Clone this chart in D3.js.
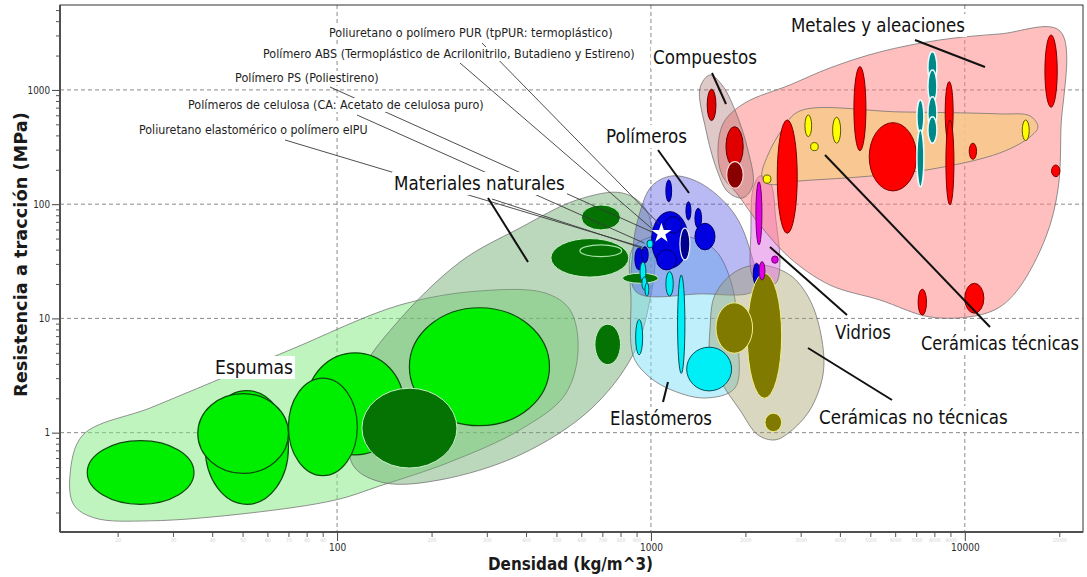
<!DOCTYPE html>
<html>
<head>
<meta charset="utf-8">
<script src="https://cdn.jsdelivr.net/npm/d3@7"></script>
<style>
  body { margin: 0; background: #fff; }
  svg { display: block; }
  text { font-family: "DejaVu Sans", Verdana, sans-serif; }
</style>
</head>
<body>
<svg id="chart" width="1087" height="577"></svg>
<script>
// ---- axis ticks -------------------------------------------------------
const densityTicks = [100, 1000, 10000];
const strengthTicks = [1, 10, 100, 1000];

// ---- material bubbles: [density min, density max, strength min, strength max]
const foamBubbles = [
  [16, 35, 0.236, 0.85],
  [38, 70, 0.236, 2.33],
  [36, 70, 0.44, 2.2],
  [80, 163, 0.64, 5.0],
  [70, 116, 0.42, 3.0],
  [170, 475, 1.15, 12.4]
];
const naturalBubbles = [
  [600, 800, 59.5, 98.5],
  [480, 850, 23, 50],
  [812, 1055, 20.3, 24.9],
  [663, 800, 3.94, 8.9],
  [120, 241, 0.49, 2.45]
];
const naturalRing = [[594, 807, 34.7, 44]];
const polymerBubbles = [
  [1005, 1315, 27.5, 86],
  [1108, 1252, 55.7, 77.8],
  [1043, 1207, 26.6, 39.8],
  [1116, 1164, 105, 163],
  [1293, 1341, 72.8, 105],
  [1381, 1450, 61.6, 92],
  [1381, 1600, 39.8, 68],
  [889, 945, 26.6, 41.4],
  [934, 980, 30.6, 42.5],
  [2118, 2224, 19.6, 30.4]
];
const polymerDark = [[1237, 1331, 32.5, 61.6]];
const elastomerBubbles = [
  [894, 941, 4.8, 9.8],
  [1216, 1283, 3.3, 24],
  [1300, 1807, 2.32, 5.6],
  [1116, 1178, 15.7, 25.7],
  [923, 964, 20.9, 31.2],
  [936, 971, 17.8, 23.1],
  [957, 985, 15.7, 20.4],
  [971, 1015, 41.4, 48.6]
];
const ceramicBubbles = [
  [2027, 2609, 2.0, 24.9],
  [1611, 2108, 4.96, 13.7],
  [2308, 2609, 1.02, 1.48]
];
const glassBubbles = [
  [2160, 2257, 44, 157],
  [2213, 2308, 21.7, 31.4],
  [2424, 2544, 30.4, 35.2]
];
const metalBubbles = [
  [2526, 2925, 55.7, 546],
  [4433, 4842, 294, 1600],
  [4960, 7020, 130.6, 517],
  [8660, 9180, 344, 1182],
  [8706, 9233, 98.5, 546],
  [10330, 10900, 247, 342],
  [18000, 19700, 706, 3030],
  [18900, 20090, 174, 220],
  [7100, 7550, 10.7, 18],
  [10000, 11500, 11.1, 20.3]
];
const techTealBubbles = [
  [7036, 7408, 417.8, 817.5],
  [7036, 7408, 142.4, 446.5],
  [7628, 8150, 1144, 2164],
  [7628, 8150, 769.6, 1496],
  [7628, 8150, 446.5, 873.7],
  [7628, 8150, 341.6, 583.8]
];
const techYellowBubbles = [
  [3095, 3251, 390, 604],
  [3792, 4022, 342, 577],
  [3227, 3412, 294, 346],
  [2279, 2412, 152.5, 180],
  [15240, 16040, 360, 546]
];
const compositeBubbles = [
  [1511, 1611, 539, 1014],
  [1734, 1968, 213, 477]
];
const compositeDark = [[1743, 1968, 138, 236]];

// selected material (density, strength)
const selectedMaterial = [1080, 55.7];

// ---- family envelopes: [density, strength] outline points
const foamEnvelope = [[14.1,0.427],[15.5,0.955],[25.4,1.646],[40.2,2.78],[70.8,5.30],[158.6,13.1],[285,17.4],[460,16.7],[552,11.9],[586,5.30],[532,2.14],[382,1.056],[229,0.554],[137,0.342],[99.2,0.258],[52.8,0.198],[25.4,0.169],[16.9,0.179],[14.5,0.233]];
const naturalEnvelope = [[108.3,0.864],[118.3,3.20],[152.9,8.77],[246.4,31.2],[382.5,61.9],[581,108.9],[808,125.5],[957,92.7],[1030,39.8],[993,14.5],[876,4.79],[639,1.58],[382.5,0.638],[212.7,0.386],[142.1,0.363],[114,0.491]];
const elastomerEnvelope = [[870,39.8],[978,50.6],[1283,52.7],[1599,39.8],[1811,19.6],[1894,6.48],[1852,2.46],[1486,2.01],[1125,2.46],[957,3.33],[876,4.79],[864,14.5]];
const polymerEnvelope = [[896,17.1],[876,39.8],[923,85.5],[1007,144.4],[1166,176.7],[1433,153.4],[1825,85.5],[2067,39.8],[2145,17.8],[1433,16.4]];
const ceramicEnvelope = [[1542,7.93],[1599,16.05],[1852,25.5],[2224,29.4],[2772,24.0],[3210,14.5],[3506,6.48],[3532,3.20],[3210,1.58],[2772,1.015],[2483,0.864],[2192,0.955],[1920,1.58],[1659,2.89],[1542,4.79]];
const glassEnvelope = [[2113,133.3],[2224,176.7],[2394,156.6],[2501,72.8],[2576,29.4],[2501,20.4],[2257,18.5],[2098,24.0],[2083,59.5]];
const metalEnvelope = [[1635,298.4],[1709,524.8],[1993,769.6],[2772,1106],[3717,1558],[5363,2151],[8331,2740],[12935,3092],[20090,3285],[20236,446.5],[19800,133.3],[18130,51.7],[14980,18.9],[12935,12.6],[10770,10.5],[7743,10.3],[5363,14.5],[3717,19.6],[2772,33.8],[2224,65.8],[1894,120.5],[1684,180.3]];
const compositeEnvelope = [[1433,1041],[1542,1353],[1684,1106],[1852,668],[2037,298.4],[2113,147.4],[1964,113.4],[1759,128],[1623,199.4],[1497,446.5]];
const techEnvelope = [[2257,176.7],[2359,269.8],[2615,446.5],[2983,655],[6213,642],[12935,616.5],[16126,592],[17100,474.4],[16126,387.8],[12935,280.8],[7574,199.4],[4632,173.2],[2983,159.7],[2359,150.4]];

// ---- text ---------------------------------------------------------------
const familyNames = ["Materiales naturales", "Polímeros", "Compuestos", "Metales y aleaciones",
  "Cerámicas técnicas", "Vidrios", "Cerámicas no técnicas", "Elastómeros", "Espumas"];
const materialNotes = [
  "Poliuretano o polímero PUR (tpPUR: termoplástico)",
  "Polímero ABS (Termoplástico de Acrilonitrilo, Butadieno y Estireno)",
  "Polímero PS (Poliestireno)",
  "Polímeros de celulosa (CA: Acetato de celulosa puro)",
  "Poliuretano elastomérico o polímero eIPU"
];

// ---- layout -------------------------------------------------------------
const W = 1087, H = 577;
const plot = { left: 60, right: 1083, top: 5, bottom: 532 };

const svg = d3.select("#chart");
const x = d3.scaleLog().domain([13.1, 23800]).range([plot.left, plot.right]);
const y = d3.scaleLog().domain([0.135, 5540]).range([plot.bottom, plot.top]);

svg.append("rect").attr("width", W).attr("height", H).attr("fill", "#fff");
svg.append("defs").append("clipPath").attr("id", "plotArea")
  .append("rect").attr("x", plot.left).attr("y", plot.top)
  .attr("width", plot.right - plot.left).attr("height", plot.bottom - plot.top);

const inner = svg.append("g").attr("clip-path", "url(#plotArea)");

// dashed decade grid
const grid = inner.append("g").attr("stroke", "#8a8a8a").attr("stroke-width", 1).attr("stroke-dasharray", "4,3");
grid.selectAll(".gx").data(densityTicks).join("line")
  .attr("x1", d => x(d)).attr("x2", d => x(d)).attr("y1", plot.top).attr("y2", plot.bottom);
grid.selectAll(".gy").data(strengthTicks).join("line")
  .attr("y1", d => y(d)).attr("y2", d => y(d)).attr("x1", plot.left).attr("x2", plot.right);

// envelopes
const hull = d3.line().x(d => x(d[0])).y(d => y(d[1])).curve(d3.curveCatmullRomClosed.alpha(0.5));
const envelopes = [
  { pts: foamEnvelope, fill: "#80ea80", op: 0.5 },
  { pts: naturalEnvelope, fill: "#6aa86a", op: 0.45 },
  { pts: elastomerEnvelope, fill: "#7ee0f5", op: 0.5 },
  { pts: polymerEnvelope, fill: "#5050e0", op: 0.4 },
  { pts: ceramicEnvelope, fill: "#a09a60", op: 0.4 },
  { pts: glassEnvelope, fill: "#e070e0", op: 0.5 },
  { pts: metalEnvelope, fill: "#ff8080", op: 0.5 },
  { pts: compositeEnvelope, fill: "#a06060", op: 0.35 },
  { pts: techEnvelope, fill: "#f8c888", op: 0.85 }
];
inner.append("g").selectAll("path").data(envelopes).join("path")
  .attr("d", d => hull(d.pts))
  .attr("fill", d => d.fill).attr("fill-opacity", d => d.op)
  .attr("stroke", "#6f6f6f").attr("stroke-opacity", 0.75).attr("stroke-width", 1);

// bubbles
function bubbles(data, fill, stroke, sw) {
  inner.append("g").selectAll("ellipse").data(data).join("ellipse")
    .attr("cx", d => (x(d[0]) + x(d[1])) / 2)
    .attr("cy", d => (y(d[2]) + y(d[3])) / 2)
    .attr("rx", d => (x(d[1]) - x(d[0])) / 2)
    .attr("ry", d => (y(d[2]) - y(d[3])) / 2)
    .attr("fill", fill).attr("stroke", stroke).attr("stroke-width", sw);
}
bubbles(foamBubbles, "#00ee00", "#0c4a0c", 1.2);
bubbles(naturalBubbles, "#047304", "#c6efc6", 1);
bubbles(naturalRing, "none", "#a8e0a8", 1.2);
bubbles(polymerBubbles, "#0000e0", "#00006a", 1);
bubbles(polymerDark, "#00008a", "#e8f0ff", 1.2);
bubbles(elastomerBubbles, "#00eef6", "#00505a", 1);
bubbles(ceramicBubbles, "#807a00", "#f2f08a", 1);
bubbles(glassBubbles, "#e400e4", "#6a006a", 1);
bubbles(metalBubbles, "#ff0000", "#7a0000", 1);
bubbles(techTealBubbles, "#008888", "#e8ffff", 1.5);
bubbles(techYellowBubbles, "#ffff00", "#5a5a00", 1);
bubbles(compositeBubbles, "#e00000", "#600000", 1);
bubbles(compositeDark, "#880000", "#ffd8d8", 1.2);

// ---- axes ---------------------------------------------------------------
const minorDensity = [];
[10, 100, 1000, 10000].forEach(m => { for (let k = 2; k <= 9; k++) { const v = k * m; if (v > 13.1 && v < 23800) minorDensity.push(v); } });
const minorStrength = [];
[0.1, 1, 10, 100, 1000].forEach(m => { for (let k = 2; k <= 9; k++) { const v = +(k * m).toPrecision(3); if (v > 0.135 && v < 5540) minorStrength.push(v); } });

const gxMinor = svg.append("g").attr("transform", `translate(0,${plot.bottom})`)
  .call(d3.axisBottom(x).tickValues(minorDensity).tickSize(5).tickPadding(1).tickFormat(d3.format("d")));
gxMinor.attr("font-family", "DejaVu Sans").attr("font-size", 5);
gxMinor.selectAll("text").attr("fill", "#d2d2d2");
gxMinor.selectAll("line").attr("stroke", "#555");
gxMinor.select(".domain").remove();

const gx = svg.append("g").attr("transform", `translate(0,${plot.bottom})`)
  .call(d3.axisBottom(x).tickValues(densityTicks).tickSize(9).tickPadding(3).tickFormat(d3.format("d")));
gx.attr("font-family", "DejaVu Sans").attr("font-size", 10);
gx.selectAll("text").attr("fill", "#2a2a2a");
gx.selectAll("line").attr("stroke", "#444");
gx.select(".domain").remove();

const gyMinor = svg.append("g").attr("transform", `translate(${plot.left},0)`)
  .call(d3.axisLeft(y).tickValues(minorStrength).tickSize(4).tickFormat(""));
gyMinor.selectAll("line").attr("stroke", "#555");
gyMinor.select(".domain").remove();

const gy = svg.append("g").attr("transform", `translate(${plot.left},0)`)
  .call(d3.axisLeft(y).tickValues(strengthTicks).tickSize(8).tickPadding(2).tickFormat(d3.format("d")));
gy.attr("font-family", "DejaVu Sans").attr("font-size", 10);
gy.selectAll("text").attr("fill", "#2a2a2a");
gy.selectAll("line").attr("stroke", "#444");
gy.select(".domain").remove();

function squeeze(sel, f) {
  sel.each(function () {
    const L = this.getComputedTextLength();
    d3.select(this).attr("textLength", L * f).attr("lengthAdjust", "spacingAndGlyphs");
  });
}
squeeze(gx.selectAll("text"), 0.9);
squeeze(gy.selectAll("text"), 0.88);
squeeze(gxMinor.selectAll("text"), 0.9);

// frame
svg.append("rect").attr("x", plot.left).attr("y", plot.top)
  .attr("width", plot.right - plot.left).attr("height", plot.bottom - plot.top)
  .attr("fill", "none").attr("stroke", "#333").attr("stroke-width", 1);
svg.append("line").attr("x1", plot.left).attr("x2", plot.right).attr("y1", plot.bottom).attr("y2", plot.bottom)
  .attr("stroke", "#505050").attr("stroke-width", 2);
svg.append("line").attr("x1", plot.left).attr("x2", plot.left).attr("y1", plot.top).attr("y2", plot.bottom)
  .attr("stroke", "#505050").attr("stroke-width", 2);

// narrow a text to a given width with a horizontal scale about its left edge
function fitText(sel, left, base, width) {
  const L = sel.node().getComputedTextLength();
  sel.attr("x", 0).attr("y", 0)
    .attr("transform", `translate(${left},${base}) scale(${width / L},1)`);
}

// axis titles
const xTitle = svg.append("text").text("Densidad (kg/m^3)")
  .attr("font-size", 18).attr("font-weight", "bold").attr("fill", "#1a1a1a");
fitText(xTitle, 488, 570, 165);
const yTitle = svg.append("text").text("Resistencia a tracción (MPa)")
  .attr("font-size", 18).attr("font-weight", "bold").attr("fill", "#1a1a1a");
{
  const L = yTitle.node().getComputedTextLength();
  yTitle.attr("transform", `translate(26.5,397) rotate(-90) scale(${285 / L},1)`);
}

// ---- annotations -------------------------------------------------------
const sx = x(selectedMaterial[0]), sy = y(selectedMaterial[1]);

// material notes: left edge, vertical centre, width, leader start
const noteLayout = [
  { x: 329, cy: 33, w: 284, from: [482, 43], to: [sx - 2, sy - 9] },
  { x: 263, cy: 54, w: 372, from: [460, 63], to: [sx - 10, sy - 5] },
  { x: 235, cy: 78, w: 144, from: [330, 87], to: [sx - 9, sy - 1] },
  { x: 188, cy: 105, w: 296, from: [357, 115], to: [sx - 17, sy + 10] },
  { x: 139, cy: 130, w: 229, from: [285, 140], to: [sx - 19, sy + 14] }
];
// family labels: left edge, vertical centre, width, leader
const familyLayout = [
  { x: 394, cy: 183, w: 171, lead: [488, 198, 528, 262] },
  { x: 606, cy: 136, w: 81, lead: [658, 150, 689, 193] },
  { x: 653, cy: 57, w: 104, lead: [712, 73, 726, 104] },
  { x: 791, cy: 25, w: 174, lead: [915, 40, 985, 67] },
  { x: 921, cy: 343, w: 158, lead: [825, 155, 990, 327] },
  { x: 835, cy: 332, w: 56, lead: [770, 247, 847, 315] },
  { x: 819, cy: 417, w: 189, lead: [808, 348, 892, 400] },
  { x: 610, cy: 418, w: 102, lead: [668, 382, 663, 402] },
  { x: 215, cy: 367, w: 78, lead: null }
];

// thin leaders from the material notes
const notes = svg.append("g");
notes.selectAll("line").data(noteLayout).join("line")
  .attr("x1", d => d.from[0]).attr("y1", d => d.from[1])
  .attr("x2", d => d.to[0]).attr("y2", d => d.to[1])
  .attr("stroke", "#3a3a3a").attr("stroke-width", 0.9);
notes.append("line").attr("x1", 492).attr("y1", 199).attr("x2", sx - 16).attr("y2", sy + 16)
  .attr("stroke", "#3a3a3a").attr("stroke-width", 0.9);

// thick leaders from the family labels
svg.append("g").selectAll("line").data(familyLayout.filter(d => d.lead)).join("line")
  .attr("x1", d => d.lead[0]).attr("y1", d => d.lead[1])
  .attr("x2", d => d.lead[2]).attr("y2", d => d.lead[3])
  .attr("stroke", "#111").attr("stroke-width", 2);

// note texts with white backing
const noteG = svg.append("g");
noteLayout.forEach((d, i) => {
  noteG.append("rect").attr("x", d.x - 1).attr("y", d.cy - 7).attr("width", d.w + 2).attr("height", 14).attr("fill", "#fff");
  const t = noteG.append("text").text(materialNotes[i]).attr("font-size", 12).attr("fill", "#1e1e1e");
  fitText(t, d.x, d.cy + 4.3, d.w);
});

// family label texts with white backing
const famG = svg.append("g");
familyLayout.forEach((d, i) => {
  famG.append("rect").attr("x", d.x - 2).attr("y", d.cy - 11).attr("width", Math.min(d.w + 4, plot.right - d.x + 1)).attr("height", 23).attr("fill", "#fff");
  const t = famG.append("text").text(familyNames[i]).attr("font-size", 19).attr("fill", "#111");
  fitText(t, d.x, d.cy + 7, d.w);
});

// selected material marker
svg.append("path")
  .attr("d", d3.symbol(d3.symbolStar).size(125)())
  .attr("transform", `translate(${sx},${sy})`)
  .attr("fill", "#fff");
</script>
</body>
</html>
